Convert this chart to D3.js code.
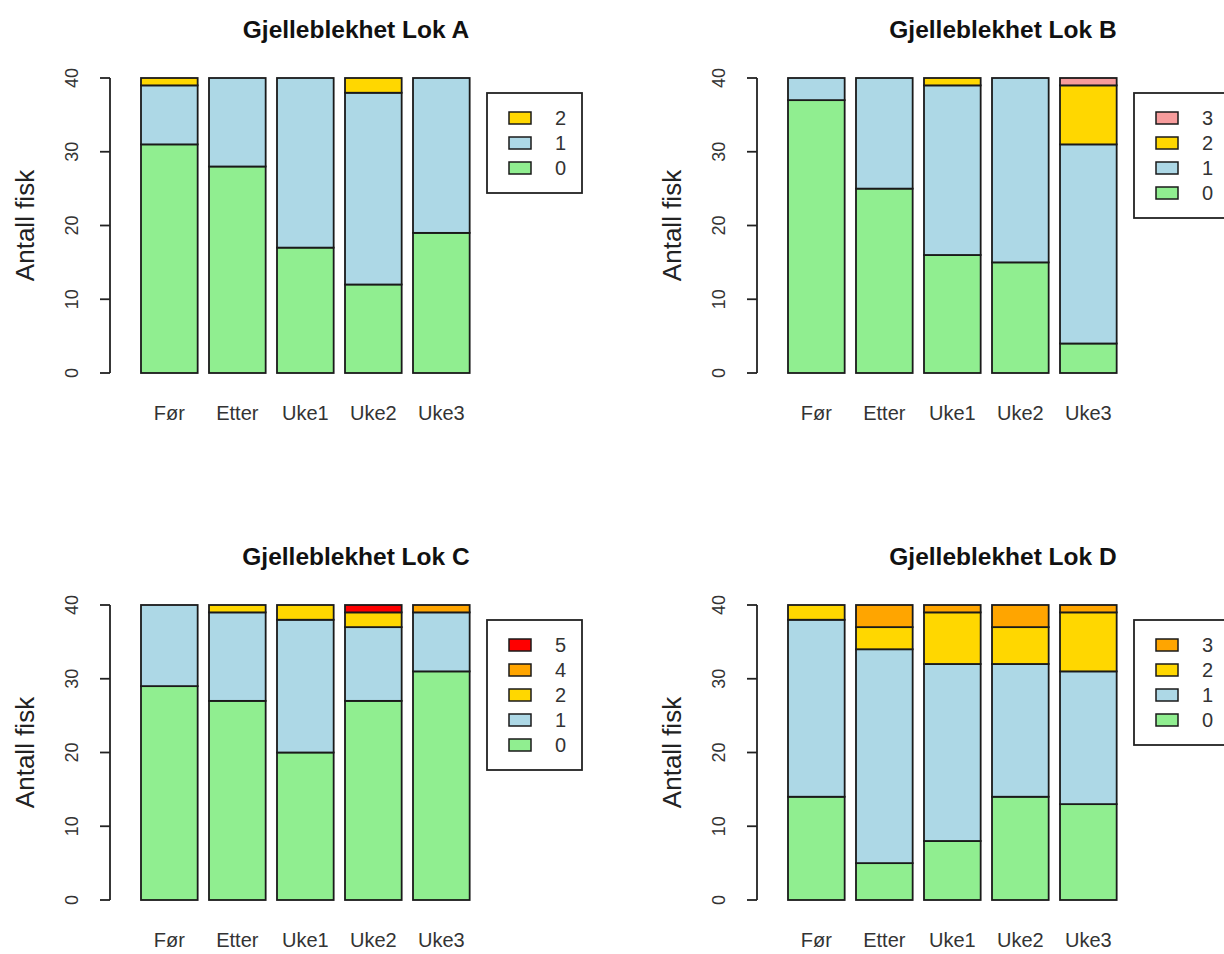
<!DOCTYPE html>
<html><head><meta charset="utf-8">
<script src="https://cdn.jsdelivr.net/npm/d3@7/dist/d3.min.js"></script>
<style>
html,body{margin:0;padding:0;background:#fff;}
svg{display:block;font-family:"Liberation Sans",Arial,sans-serif;}
</style></head>
<body><svg id="c" width="1224" height="954"></svg>
<script>
// ---- data ----
const categories = ["Før", "Etter", "Uke1", "Uke2", "Uke3"];
const yTicks = [0, 10, 20, 30, 40];
const yLabel = "Antall fisk";

const titleA = "Gjelleblekhet Lok A";
const levelsA = ["0", "1", "2"];
const lokA_0 = [31, 28, 17, 12, 19];
const lokA_1 = [8, 12, 23, 26, 21];
const lokA_2 = [1, 0, 0, 2, 0];

const titleB = "Gjelleblekhet Lok B";
const levelsB = ["0", "1", "2", "3"];
const lokB_0 = [37, 25, 16, 15, 4];
const lokB_1 = [3, 15, 23, 25, 27];
const lokB_2 = [0, 0, 1, 0, 8];
const lokB_3 = [0, 0, 0, 0, 1];

const titleC = "Gjelleblekhet Lok C";
const levelsC = ["0", "1", "2", "4", "5"];
const lokC_0 = [29, 27, 20, 27, 31];
const lokC_1 = [11, 12, 18, 10, 8];
const lokC_2 = [0, 1, 2, 2, 0];
const lokC_4 = [0, 0, 0, 0, 1];
const lokC_5 = [0, 0, 0, 1, 0];

const titleD = "Gjelleblekhet Lok D";
const levelsD = ["0", "1", "2", "3"];
const lokD_0 = [14, 5, 8, 14, 13];
const lokD_1 = [24, 29, 24, 18, 18];
const lokD_2 = [2, 3, 7, 5, 8];
const lokD_3 = [0, 3, 1, 3, 1];

// ---- styles ----
const GREEN = "#90EE90", BLUE = "#ADD8E6", GOLD = "#FFD700", PINK = "#F79C9C", ORANGE = "#FFA500", RED = "#FF0000";

const panels = [
  {title: titleA, levels: levelsA, series: [lokA_0, lokA_1, lokA_2], colors: [GREEN, BLUE, GOLD], dx: 0, dy: 0},
  {title: titleB, levels: levelsB, series: [lokB_0, lokB_1, lokB_2, lokB_3], colors: [GREEN, BLUE, GOLD, PINK], dx: 647, dy: 0},
  {title: titleC, levels: levelsC, series: [lokC_0, lokC_1, lokC_2, lokC_4, lokC_5], colors: [GREEN, BLUE, GOLD, ORANGE, RED], dx: 0, dy: 527},
  {title: titleD, levels: levelsD, series: [lokD_0, lokD_1, lokD_2, lokD_3], colors: [GREEN, BLUE, GOLD, ORANGE], dx: 647, dy: 527}
];

const svg = d3.select("#c");
const STROKE = "#1a1a1a";

panels.forEach(p => {
  const g = svg.append("g").attr("transform", `translate(${p.dx},${p.dy})`);
  const y = d3.scaleLinear().domain([0, 40]).range([373, 78]);
  const x = d3.scaleBand().domain(categories).range([135.33, 475.33])
    .paddingInner(0.1667).paddingOuter(0.0833);

  const rows = categories.map((c, i) => {
    const r = {cat: c};
    p.levels.forEach((lv, k) => r[lv] = p.series[k][i]);
    return r;
  });
  const stacked = d3.stack().keys(p.levels)(rows);

  stacked.forEach((layer, k) => {
    g.append("g").selectAll("rect")
      .data(layer.filter(d => d[1] - d[0] > 0))
      .join("rect")
      .attr("x", d => x(d.data.cat))
      .attr("width", x.bandwidth())
      .attr("y", d => y(d[1]))
      .attr("height", d => y(d[0]) - y(d[1]))
      .attr("fill", p.colors[k])
      .attr("stroke", STROKE)
      .attr("stroke-width", 1.8);
  });

  // y axis (R style)
  const ax = g.append("g").attr("transform", "translate(110,0)");
  ax.append("line").attr("x1", 0).attr("x2", 0).attr("y1", y(0)).attr("y2", y(40))
    .attr("stroke", "#222").attr("stroke-width", 1.8);
  ax.selectAll("line.t").data(yTicks).join("line").attr("class", "t")
    .attr("x1", -10).attr("x2", 0).attr("y1", d => y(d)).attr("y2", d => y(d))
    .attr("stroke", "#222").attr("stroke-width", 1.8);
  ax.selectAll("text").data(yTicks).join("text")
    .attr("transform", d => `translate(-38,${y(d)}) rotate(-90)`)
    .attr("text-anchor", "middle").attr("dy", "0.36em")
    .attr("font-size", 18).attr("fill", "#333")
    .text(d => d);

  // y label
  g.append("text")
    .attr("transform", `translate(25,${(y(0) + y(40)) / 2}) rotate(-90)`)
    .attr("text-anchor", "middle").attr("dy", "0.36em")
    .attr("font-size", 26).attr("fill", "#222")
    .text(yLabel);

  // x category labels
  g.append("g").selectAll("text").data(categories).join("text")
    .attr("x", d => x(d) + x.bandwidth() / 2)
    .attr("y", 420)
    .attr("text-anchor", "middle")
    .attr("font-size", 20).attr("fill", "#333")
    .text(d => d);

  // title
  g.append("text")
    .attr("x", 356).attr("y", 38)
    .attr("text-anchor", "middle")
    .attr("font-size", 24.5).attr("font-weight", "bold").attr("fill", "#111")
    .text(p.title);

  // legend (reverse order, top = highest level)
  const n = p.levels.length;
  const lg = g.append("g").attr("transform", "translate(487,93)");
  lg.append("rect").attr("x", 0).attr("y", 0).attr("width", 95).attr("height", 25 * (n + 1))
    .attr("fill", "#fff").attr("stroke", "#222").attr("stroke-width", 1.8);
  const items = p.levels.map((lv, k) => ({lv, col: p.colors[k]})).reverse();
  const it = lg.selectAll("g.it").data(items).join("g").attr("class", "it")
    .attr("transform", (d, i) => `translate(0,${25 * (i + 1)})`);
  it.append("rect").attr("x", 22).attr("y", -6).attr("width", 22).attr("height", 12)
    .attr("fill", d => d.col).attr("stroke", STROKE).attr("stroke-width", 1.5);
  it.append("text").attr("x", 68).attr("dy", "0.36em")
    .attr("font-size", 20).attr("fill", "#333")
    .text(d => d.lv);
});
</script></body></html>
